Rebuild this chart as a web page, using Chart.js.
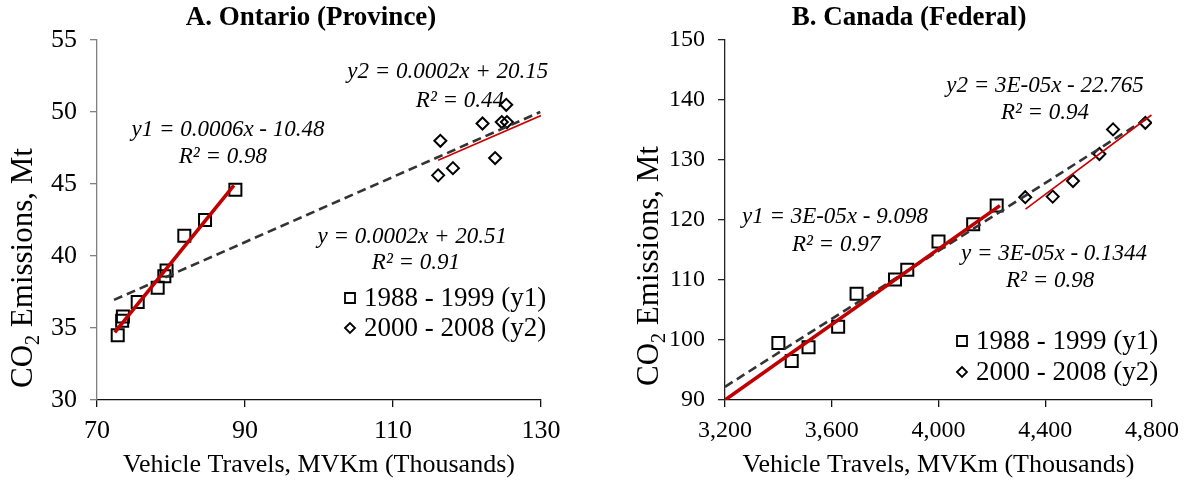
<!DOCTYPE html>
<html><head><meta charset="utf-8">
<script src="https://cdn.jsdelivr.net/npm/chart.js@4.4.1/dist/chart.umd.min.js"></script>
<style>
html,body{margin:0;padding:0;background:#fff;}
#wrap{position:relative;width:1189px;height:484px;overflow:hidden;}
#cA{position:absolute;left:0;top:0;}
#cB{position:absolute;left:600px;top:0;}
</style></head><body>
<div id="wrap"><canvas id="cA" width="600" height="484"></canvas><canvas id="cB" width="589" height="484"></canvas></div>
<script>
// ---------- data ----------
// A. Ontario
const ontX1 = [72.8, 73.4, 73.5, 75.5, 78.2, 79.1, 79.4, 81.8, 84.6, 88.7];
const ontY1 = [34.5, 35.5, 35.8, 36.8, 37.8, 38.6, 39.0, 41.4, 42.5, 44.6];
const ontX2 = [116.1, 116.4, 118.1, 122.1, 123.8, 124.7, 125.3, 125.4];
const ontY2 = [45.6, 48.0, 46.1, 49.2, 46.8, 49.3, 50.5, 49.3];
const ontFitAllX = [72.3, 129.9], ontFitAllY = [36.95, 50.0];
const ontFit1X = [72.4, 88.5],   ontFit1Y = [34.7, 44.9];
const ontFit2X = [116.1, 130],   ontFit2Y = [46.65, 49.75];
const ontXTicks = [70, 90, 110, 130];
const ontYTicks = [30, 35, 40, 45, 50, 55];
// B. Canada
const canX1 = [3400, 3450, 3513, 3624, 3693, 3837, 3883, 4000, 4130, 4218];
const canY1 = [99.5, 96.5, 98.8, 102.2, 107.7, 110.1, 111.7, 116.4, 119.3, 122.4];
const canX2 = [4325, 4428, 4504, 4603, 4654, 4775];
const canY2 = [123.8, 123.9, 126.5, 131.0, 135.1, 136.2];
const canFitAllX = [3200, 4790], canFitAllY = [92.2, 137.2];
const canFit1X = [3200, 4230],   canFit1Y = [90, 122.4];
const canFit2X = [4326, 4798],   canFit2Y = [121.8, 137.5];
const canXTicks = [3200, 3600, 4000, 4400, 4800];
const canYTicks = [90, 100, 110, 120, 130, 140, 150];

const seriesLabels = ['1988 - 1999 (y1)', '2000 - 2008 (y2)'];
const xTitle = 'Vehicle Travels, MVKm (Thousands)';

const pts = (xs, ys) => xs.map((x, i) => ({x, y: ys[i]}));
const SERIF = "'Liberation Serif', 'Times New Roman', serif";

// ---------- custom drawing plugin ----------
const decor = {
  id: 'decor',
  afterDatasetsDraw(chart, args, o) {
    const ctx = chart.ctx, xs = chart.scales.x, ys = chart.scales.y;
    ctx.save();
    ctx.fillStyle = '#000';
    // title
    ctx.font = 'bold ' + o.titleSize + 'px ' + SERIF;
    ctx.textAlign = 'center'; ctx.textBaseline = 'middle';
    ctx.fillText(o.title, o.titlePos[0], o.titlePos[1]);
    // equations
    o.notes.forEach(n => {
      ctx.font = 'italic ' + o.noteSize + 'px ' + SERIF;
      ctx.textAlign = 'center'; ctx.textBaseline = 'middle';
      ctx.fillText(n.text, xs.getPixelForValue(n.x), ys.getPixelForValue(n.y));
    });
    // y title with subscript
    ctx.translate(o.yTitlePos[0], o.yTitlePos[1]);
    ctx.rotate(-Math.PI / 2);
    ctx.textBaseline = 'alphabetic'; ctx.textAlign = 'left';
    const big = o.yTitleSize + 'px ' + SERIF, small = Math.round(o.yTitleSize * 0.65) + 'px ' + SERIF;
    ctx.font = big; const w1 = ctx.measureText('CO').width;
    ctx.font = small; const w2 = ctx.measureText('2').width;
    ctx.font = big; const w3 = ctx.measureText(' Emissions, Mt').width;
    let sx = -(w1 + w2 + w3) / 2;
    ctx.font = big; ctx.fillText('CO', sx, 0);
    ctx.font = small; ctx.fillText('2', sx + w1, o.yTitleSize * 0.22);
    ctx.font = big; ctx.fillText(' Emissions, Mt', sx + w1 + w2, 0);
    ctx.restore();
    // legend
    ctx.save();
    ctx.strokeStyle = '#000'; ctx.lineWidth = 1.8; ctx.fillStyle = '#000';
    ctx.font = o.legendSize + 'px ' + SERIF;
    ctx.textAlign = 'left'; ctx.textBaseline = 'middle';
    const [lx, ly, gap, tx] = o.legendPos;
    chart.data.datasets.filter(d => d.inLegend).forEach((d, i) => {
      const cy = ly + i * gap;
      ctx.beginPath();
      if (d.pointStyle === 'rect') { ctx.rect(lx - 5, cy - 5, 10, 10); }
      else { ctx.moveTo(lx - 5, cy); ctx.lineTo(lx, cy - 5); ctx.lineTo(lx + 5, cy); ctx.lineTo(lx, cy + 5); ctx.closePath(); }
      ctx.stroke();
      ctx.fillText(d.label, tx, cy + 1);
    });
    ctx.restore();
  }
};

function makeChart(id, cfg) {
  const marker = (label, data, style, r) => ({
    type: 'scatter', label, data, inLegend: true, pointStyle: style, pointRadius: r, pointHoverRadius: r,
    pointBorderColor: '#000', pointBackgroundColor: 'rgba(0,0,0,0)', pointBorderWidth: 2, showLine: false, order: 3
  });
  const fit = (data, color, width, dash, order) => ({
    type: 'line', data, borderColor: color, borderWidth: width, borderDash: dash || [], pointRadius: 0,
    pointHoverRadius: 0, fill: false, tension: 0, order, borderCapStyle: 'butt'
  });
  const axisFont = {family: SERIF, size: cfg.tickSize};
  return new Chart(document.getElementById(id), {
    type: 'scatter',
    data: {
      datasets: [
        marker(seriesLabels[0], cfg.s1, 'rect', 8.5),
        marker(seriesLabels[1], cfg.s2, 'rectRot', 6),
        fit(cfg.fitAll, '#333333', 2.6, [9, 5], 2),
        fit(cfg.fit1, '#c00000', cfg.fit1W, null, 1),
        fit(cfg.fit2, '#cc0000', 1.6, null, 0)
      ]
    },
    options: {
      responsive: false, animation: false, events: [],
      layout: {padding: {top: 40, right: cfg.padRight, left: 0, bottom: 0}},
      plugins: {legend: {display: false}, tooltip: {enabled: false}, decor: cfg.decor},
      scales: {
        x: {
          type: 'linear', min: cfg.xTicks[0], max: cfg.xTicks[cfg.xTicks.length - 1],
          afterBuildTicks: s => { s.ticks = cfg.xTicks.map(v => ({value: v})); },
          afterFit: s => { s.height = 84; },
          ticks: {color: '#000', font: axisFont, padding: 9, maxRotation: 0, autoSkip: false,
                  callback: v => v.toLocaleString('en-US')},
          grid: {display: true, drawOnChartArea: false, drawTicks: true, tickLength: 7, color: '#111', lineWidth: 1.3},
          border: {display: true, color: '#111', width: 1.3},
          title: {display: true, text: xTitle, color: '#000', font: {family: SERIF, size: 26}, padding: {top: 0, bottom: 3}}
        },
        y: {
          type: 'linear', min: cfg.yTicks[0], max: cfg.yTicks[cfg.yTicks.length - 1],
          afterBuildTicks: s => { s.ticks = cfg.yTicks.map(v => ({value: v})); },
          afterFit: s => { s.width = cfg.yWidth; },
          ticks: {color: '#000', font: axisFont, padding: 13, autoSkip: false},
          grid: {display: true, drawOnChartArea: false, drawTicks: true, tickLength: 7, color: cfg.yColor, lineWidth: 1.3},
          border: {display: true, color: cfg.yColor, width: 1.3}
        }
      }
    },
    plugins: [decor]
  });
}

makeChart('cA', {
  s1: pts(ontX1, ontY1), s2: pts(ontX2, ontY2),
  fitAll: pts(ontFitAllX, ontFitAllY), fit1: pts(ontFit1X, ontFit1Y), fit2: pts(ontFit2X, ontFit2Y),
  fit1W: 3.6, xTicks: ontXTicks, yTicks: ontYTicks, tickSize: 26, yWidth: 97, padRight: 59, yColor: '#808080',
  decor: {
    title: 'A. Ontario (Province)', titleSize: 27, titlePos: [311, 18], noteSize: 23,
    yTitlePos: [32, 268], yTitleSize: 31, legendSize: 27, legendPos: [350, 298, 30, 364],
    notes: [
      {text: 'y1 = 0.0006x - 10.48', x: 87.7, y: 48.75},
      {text: 'R² = 0.98', x: 87.0, y: 46.9},
      {text: 'y2 = 0.0002x + 20.15', x: 117.4, y: 52.8},
      {text: 'R² = 0.44', x: 119.05, y: 50.8},
      {text: 'y = 0.0002x + 20.51', x: 112.6, y: 41.3},
      {text: 'R² = 0.91', x: 113.1, y: 39.5}
    ]
  }
});

makeChart('cB', {
  s1: pts(canX1, canY1), s2: pts(canX2, canY2),
  fitAll: pts(canFitAllX, canFitAllY), fit1: pts(canFit1X, canFit1Y), fit2: pts(canFit2X, canFit2Y),
  fit1W: 3.6, xTicks: canXTicks, yTicks: canYTicks, tickSize: 24, yWidth: 125, padRight: 37, yColor: '#222',
  decor: {
    title: 'B. Canada (Federal)', titleSize: 27, titlePos: [309, 18], noteSize: 23,
    yTitlePos: [58, 266], yTitleSize: 31, legendSize: 27, legendPos: [362, 341, 31, 376],
    notes: [
      {text: 'y2 = 3E-05x - 22.765', x: 4399, y: 142.3},
      {text: 'R² = 0.94', x: 4399, y: 137.9},
      {text: 'y1 = 3E-05x - 9.098', x: 3612, y: 120.5},
      {text: 'R² = 0.97', x: 3616, y: 115.8},
      {text: 'y = 3E-05x - 0.1344', x: 4433, y: 114.3},
      {text: 'R² = 0.98', x: 4418, y: 109.8}
    ]
  }
});
</script>
</body></html>
